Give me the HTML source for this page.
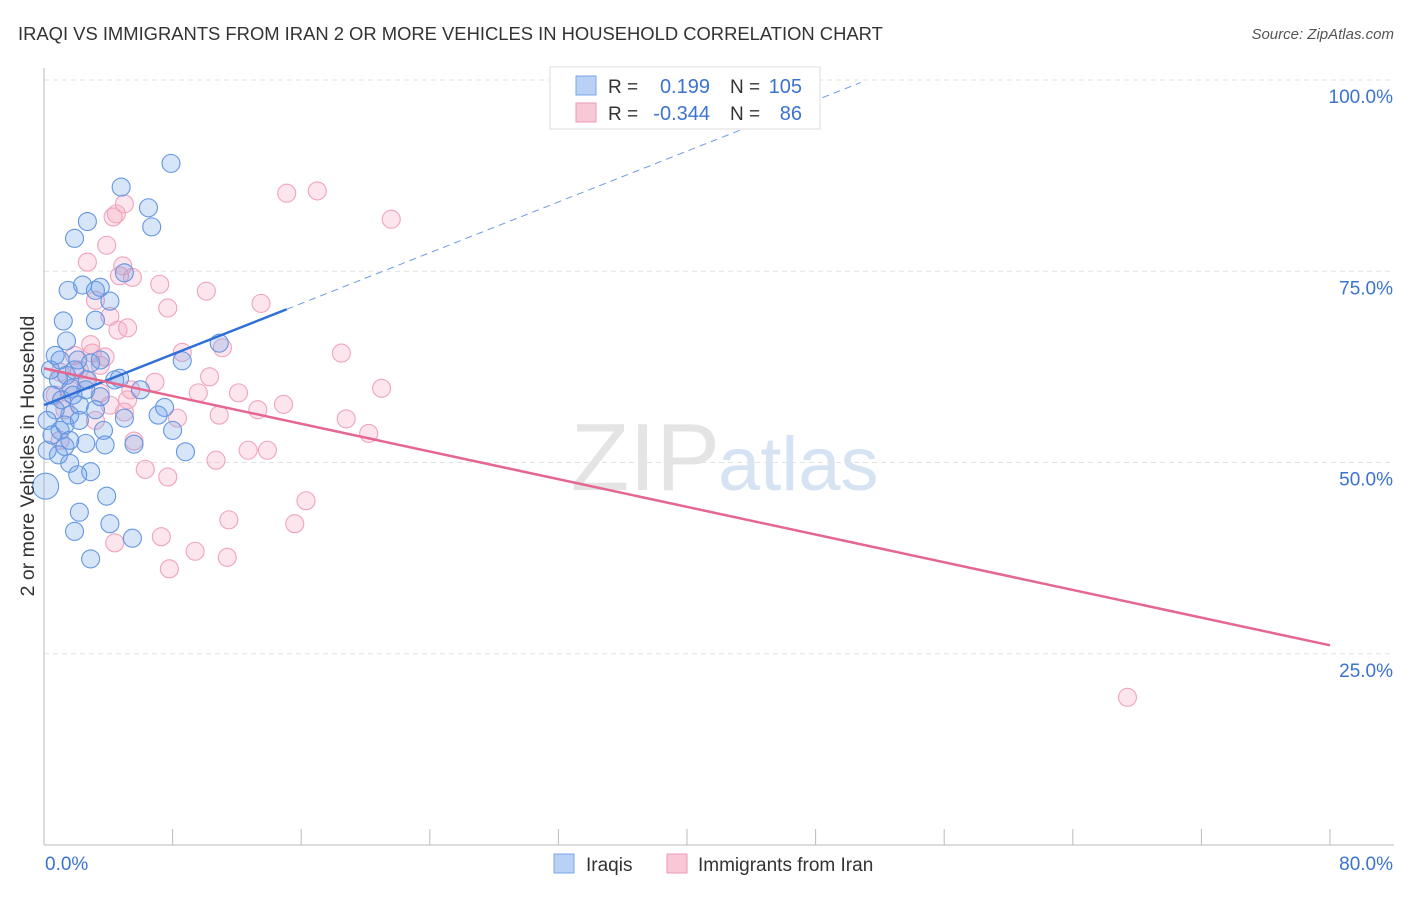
<!DOCTYPE html>
<html><head><meta charset="utf-8"><style>
body{margin:0;background:#fff;font-family:"Liberation Sans",sans-serif}
svg text{font-family:"Liberation Sans",sans-serif}
</style></head><body>
<svg id="chart" width="1406" height="892" viewBox="0 0 1406 892">
<text x="18" y="40" font-size="18.4" fill="#333">IRAQI VS IMMIGRANTS FROM IRAN 2 OR MORE VEHICLES IN HOUSEHOLD CORRELATION CHART</text>
<text x="1394" y="39" font-size="15" fill="#555" text-anchor="end" font-style="italic">Source: ZipAtlas.com</text>
<text x="720" y="490" font-size="96" fill="#e4e4e4" text-anchor="end" font-family="Liberation Serif">ZIP</text>
<text x="718" y="490" font-size="76" fill="#d6e3f3">atlas</text>
<g id="grid"></g><g id="axes"></g><g id="pts"></g><g id="lines"></g>
<text transform="translate(34,456) rotate(-90)" font-size="19.5" fill="#333" text-anchor="middle">2 or more Vehicles in Household</text>
<g>
<rect x="550" y="67" width="270" height="62" fill="#fff" stroke="#ddd"/>
<rect x="576" y="76" width="20" height="19" fill="#b8d1f5" stroke="#7aa7e8"/>
<rect x="576" y="103" width="20" height="19" fill="#f9c8d6" stroke="#ee9ab4"/>
<text x="608" y="93" font-size="19" fill="#333">R =</text><text x="710" y="93" font-size="20" fill="#3b73d0" text-anchor="end">0.199</text>
<text x="730" y="93" font-size="19" fill="#333">N =</text><text x="802" y="93" font-size="20" fill="#3b73d0" text-anchor="end">105</text>
<text x="608" y="120" font-size="19" fill="#333">R =</text><text x="710" y="120" font-size="20" fill="#3b73d0" text-anchor="end">-0.344</text>
<text x="730" y="120" font-size="19" fill="#333">N =</text><text x="802" y="120" font-size="20" fill="#3b73d0" text-anchor="end">86</text>
</g>
<g>
<rect x="554" y="854" width="20" height="19" fill="#b8d1f5" stroke="#7aa7e8"/>
<text x="586" y="871" font-size="19" fill="#333">Iraqis</text>
<rect x="667" y="854" width="20" height="19" fill="#f9c8d6" stroke="#ee9ab4"/>
<text x="698" y="871" font-size="19" fill="#333">Immigrants from Iran</text>
</g>
</svg>
<script>
const xTicks=[0,10,20,30,40,50,60,70,80];
const yTicks=[25,50,75,100];
const yTickLabels=["25.0%","50.0%","75.0%","100.0%"];
const xEndLabels=["0.0%","80.0%"];
const iraqiX=[7.9,4.8,6.5,2.7,6.7,1.9,1.5,2.4,3.5,4.1,3.2,1.2,5.0,3.2,10.9,8.6,1.4,0.7,2.9,4.7,3.5,6.0,7.5,7.1,5.0,8.0,3.7,5.6,8.8,1.3,2.6,1.0,1.6,2.2,1.7,0.9,0.4,1.0,0.2,0.1,1.6,2.9,2.1,3.9,2.2,4.1,1.9,5.5,2.9,0.5,0.7,1.1,1.9,2.6,3.2,3.8,4.4,0.2,0.5,0.9,1.3,1.6,2.2,2.7,2.1,1.4,3.5,1.8];
const iraqiY=[89.1,86.0,83.3,81.5,80.8,79.3,72.5,73.2,72.9,71.1,68.6,68.5,74.8,72.5,65.6,63.3,65.9,64.0,63.0,61.0,58.6,59.5,57.2,56.2,55.8,54.2,54.2,52.4,51.4,52.1,52.5,54.2,56.2,57.5,59.7,60.8,62.1,63.4,51.6,46.9,49.9,48.8,48.4,45.6,43.5,42.0,41.0,40.1,37.4,58.8,56.9,58.2,62.1,59.5,56.9,52.3,60.8,55.5,53.6,51.0,54.9,52.9,55.5,60.8,63.4,61.4,63.4,58.8];
const iranX=[15.1,17.0,21.6,4.3,4.5,5.0,3.9,2.7,4.9,4.7,5.5,7.2,10.1,13.5,3.2,7.7,4.1,5.2,4.6,8.6,11.1,18.5,3.0,3.8,2.2,1.0,6.9,10.3,5.4,21.0,12.1,9.6,3.5,5.2,13.3,14.9,10.9,18.8,8.3,5.0,20.2,5.6,12.7,13.9,10.7,6.3,7.7,16.3,11.5,15.6,7.3,4.4,9.4,11.4,7.8,67.4,2.6,1.6,1.9,1.3,2.9,3.5,0.7,1.0,4.1,3.2];
const iranY=[85.2,85.5,81.8,82.1,82.5,83.8,78.4,76.2,75.7,74.4,74.2,73.3,72.4,70.8,71.2,70.2,69.1,67.6,67.3,64.4,65.0,64.3,64.3,63.8,62.1,61.8,60.5,61.2,59.5,59.7,59.1,59.1,59.1,58.2,56.9,57.6,56.2,55.7,55.8,56.6,53.8,52.8,51.6,51.6,50.3,49.1,48.1,45.0,42.5,42.0,40.3,39.5,38.4,37.6,36.1,19.3,60.8,59.5,64.0,56.9,65.4,62.7,58.8,52.9,57.5,55.5];
const iraqiTrend=[57.5,0.83]; // intercept, slope
const iranTrend=[62.3,-0.4525];
const NS="http://www.w3.org/2000/svg";
const sx=v=>44+v/80*1286, sy=v=>845-v/100*765;
function mk(tag,attrs,parent){const e=document.createElementNS(NS,tag);for(const k in attrs)e.setAttribute(k,attrs[k]);document.getElementById(parent).appendChild(e);return e;}
yTicks.forEach((t,i)=>{
 const g=mk('line',{x1:44,x2:1394,y1:sy(t),y2:sy(t),stroke:'#e2e2e2','stroke-dasharray':'5,4'},'grid');
 
 
 const l=mk('text',{x:1393,y:sy(t)+23,'font-size':19,fill:'#3b73d0','text-anchor':'end'},'axes');
 l.textContent=yTickLabels[i];
 
 
});
mk('line',{x1:44,x2:44,y1:68,y2:845,stroke:'#bbb'},'axes');
mk('line',{x1:44,x2:1394,y1:845,y2:845,stroke:'#bbb'},'axes');
for(let v=0;v<=80;v+=8){const t=mk('line',{x1:sx(v),x2:sx(v),y1:829,y2:845,stroke:'#bbb'},'axes');
 
 }
[[0,'start',45],[80,'end',1393]].forEach((d,i)=>{const l=mk('text',{x:d[2],y:870,'font-size':19,fill:'#3b73d0','text-anchor':d[1]},'axes');l.textContent=xEndLabels[i];
 
 });
function pts(X,Y,fill,stroke,name){X.forEach((x,i)=>{const big=(x<0.15&&name==='iraqi-point');const c=mk('circle',{cx:sx(x),cy:sy(Y[i]),r:big?13:9,fill:fill,stroke:stroke,'stroke-width':1.1},'pts');
 
 });}
pts(iranX,iranY,'rgba(244,160,188,0.28)','#f0a3bc','iran-point');
pts(iraqiX,iraqiY,'rgba(110,160,235,0.28)','#6496e2','iraqi-point');
const b1=mk('line',{x1:sx(0),y1:sy(iraqiTrend[0]),x2:sx(15.1),y2:sy(iraqiTrend[0]+iraqiTrend[1]*15.1),stroke:'#2f6fd8','stroke-width':2.5},'lines');


const b2=mk('line',{x1:sx(15.1),y1:sy(iraqiTrend[0]+iraqiTrend[1]*15.1),x2:sx(50.8),y2:sy(iraqiTrend[0]+iraqiTrend[1]*50.8),stroke:'#6d9be0','stroke-width':1,'stroke-dasharray':'7,5'},'lines');


const p1=mk('line',{x1:sx(0),y1:sy(iranTrend[0]),x2:sx(80),y2:sy(iranTrend[0]+iranTrend[1]*80),stroke:'#e5668f','stroke-width':2.5},'lines');


</script>
</body></html>
